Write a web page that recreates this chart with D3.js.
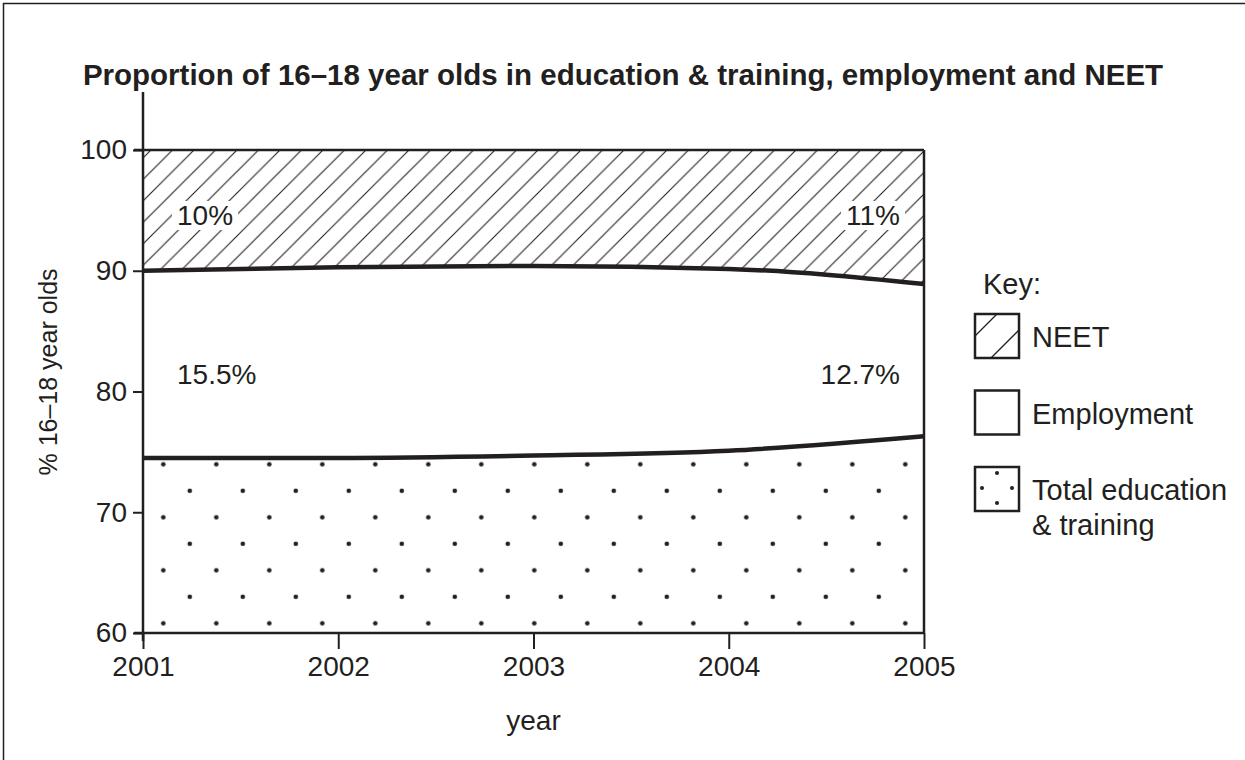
<!DOCTYPE html>
<html>
<head>
<meta charset="utf-8">
<title>Proportion of 16-18 year olds</title>
<script src="https://d3js.org/d3.v7.min.js"></script>
<style>
  body { margin: 0; background: #fff; }
  text { font-family: "Liberation Sans", Arial, sans-serif; fill: #231f20; }
</style>
</head>
<body>
<script>
// data
var years = [2001, 2002, 2003, 2004, 2005];
var upperLine = [90.0, 90.3, 90.4, 90.15, 88.9];  // top of employment band
var lowerLine = [74.5, 74.5, 74.7, 75.1, 76.3];   // top of education & training band
var yTicks = [60, 70, 80, 90, 100];
var bandLabels = [
  { year: 2001, value: 94.6, text: "10%", anchor: "start" },
  { year: 2005, value: 94.6, text: "11%", anchor: "end" },
  { year: 2001, value: 81.4, text: "15.5%", anchor: "start" },
  { year: 2005, value: 81.4, text: "12.7%", anchor: "end" }
];
var keyItems = ["NEET", "Employment", "Total education\n& training"];

var width = 1245, height = 760;
var ink = "#231f20";

var svg = d3.select("body").append("svg")
  .attr("width", width)
  .attr("height", height);

var x = d3.scaleLinear().domain([2001, 2005]).range([143, 924]);
var y = d3.scaleLinear().domain([60, 100]).range([633, 150]);

var upper = years.map((yr, i) => ({ yr: yr, v: upperLine[i] }));
var lower = years.map((yr, i) => ({ yr: yr, v: lowerLine[i] }));

// patterns
var defs = svg.append("defs");
var hs = 21.5;
var hatch = defs.append("pattern")
  .attr("id", "hatch")
  .attr("patternUnits", "userSpaceOnUse")
  .attr("x", x(2001) + 8).attr("y", y(100))
  .attr("width", hs).attr("height", hs);
hatch.append("path")
  .attr("d", `M0,${hs} L${hs},0 M${-hs/2},${hs/2} L${hs/2},${-hs/2} M${hs/2},${hs*1.5} L${hs*1.5},${hs/2}`)
  .attr("stroke", ink).attr("stroke-width", 1.1);

var ds = 53;
var dots = defs.append("pattern")
  .attr("id", "dots")
  .attr("patternUnits", "userSpaceOnUse")
  .attr("x", x(2001) - 6.2).attr("y", y(60) - 9.7 - ds / 2)
  .attr("width", ds).attr("height", ds);
[[0, 0], [ds, 0], [0, ds], [ds, ds], [ds / 2, ds / 2]].forEach(p => {
  dots.append("circle").attr("cx", p[0]).attr("cy", p[1]).attr("r", 2.3).attr("fill", ink);
});

// areas
var topArea = d3.area()
  .x(d => x(d.yr))
  .y0(d => y(d.v))
  .y1(() => y(100))
  .curve(d3.curveMonotoneX);
var bottomArea = d3.area()
  .x(d => x(d.yr))
  .y0(() => y(60))
  .y1(d => y(d.v))
  .curve(d3.curveMonotoneX);

svg.append("path").datum(upper).attr("d", topArea).attr("fill", "url(#hatch)");
svg.append("path").datum(lower).attr("d", bottomArea).attr("fill", "url(#dots)");

// labels in bands, white knock-out behind
bandLabels.forEach(l => {
  var tx = l.anchor === "start" ? x(l.year) + 34 : x(l.year) - 24;
  var t = svg.append("text")
    .attr("x", tx).attr("y", y(l.value))
    .attr("dy", "0.35em")
    .attr("text-anchor", l.anchor)
    .attr("font-size", 28)
    .text(l.text);
  var bb = t.node().getBBox();
  svg.insert("rect", () => t.node())
    .attr("x", bb.x - 5).attr("y", bb.y + 1)
    .attr("width", bb.width + 10).attr("height", bb.height - 2)
    .attr("fill", "#fff");
});

// boundary lines
var line = d3.line().x(d => x(d.yr)).y(d => y(d.v)).curve(d3.curveMonotoneX);
svg.append("path").datum(upper).attr("d", line)
  .attr("fill", "none").attr("stroke", ink).attr("stroke-width", 4.5);
svg.append("path").datum(lower).attr("d", line)
  .attr("fill", "none").attr("stroke", ink).attr("stroke-width", 4.5);

// top and right edges of plot
svg.append("line")
  .attr("x1", x(2001) - 9).attr("x2", x(2005))
  .attr("y1", y(100)).attr("y2", y(100))
  .attr("stroke", ink).attr("stroke-width", 2.5);
svg.append("line")
  .attr("x1", x(2005)).attr("x2", x(2005))
  .attr("y1", y(100)).attr("y2", y(60))
  .attr("stroke", ink).attr("stroke-width", 2.5);

// axes
var yAxis = d3.axisLeft(y).tickValues(yTicks).tickSize(10).tickPadding(6);
var yg = svg.append("g").attr("transform", `translate(${x(2001)},0)`).call(yAxis);
var xAxis = d3.axisBottom(x).tickValues(years).tickFormat(d3.format("d")).tickSize(16).tickPadding(7);
var xg = svg.append("g").attr("transform", `translate(0,${y(60)})`).call(xAxis);

[yg, xg].forEach(g => {
  g.select(".domain").remove();
  g.selectAll(".tick line").attr("stroke", ink).attr("stroke-width", 2);
  g.selectAll(".tick text").attr("font-size", 28).attr("font-family", "Liberation Sans, Arial, sans-serif").attr("fill", ink);
});

// axis lines
svg.append("line")
  .attr("x1", x(2001)).attr("x2", x(2001))
  .attr("y1", 92).attr("y2", y(60) + 8)
  .attr("stroke", ink).attr("stroke-width", 2.5);
svg.append("line")
  .attr("x1", x(2001) - 9).attr("x2", x(2005))
  .attr("y1", y(60)).attr("y2", y(60))
  .attr("stroke", ink).attr("stroke-width", 2.5);

// axis titles
svg.append("text")
  .attr("transform", `translate(48,372) rotate(-90)`)
  .attr("text-anchor", "middle")
  .attr("dy", "0.35em")
  .attr("font-size", 25)
  .text("% 16\u201318 year olds");
svg.append("text")
  .attr("x", (x(2001) + x(2005)) / 2).attr("y", 730)
  .attr("text-anchor", "middle")
  .attr("font-size", 28)
  .text("year");

// title
svg.append("text")
  .attr("x", 623).attr("y", 85)
  .attr("text-anchor", "middle")
  .attr("font-size", 29.5)
  .attr("font-weight", "bold")
  .text("Proportion of 16\u201318 year olds in education & training, employment and NEET");

// frame (top and left)
svg.append("line").attr("x1", 3).attr("x2", width).attr("y1", 3.5).attr("y2", 3.5)
  .attr("stroke", ink).attr("stroke-width", 1.5);
svg.append("line").attr("x1", 3.5).attr("x2", 3.5).attr("y1", 3).attr("y2", height)
  .attr("stroke", ink).attr("stroke-width", 1.5);

// key
var kx = 975, ky0 = 314, kstep = 76.5, kbox = 44;
svg.append("text").attr("x", 983).attr("y", 294).attr("font-size", 29).text("Key:");
keyItems.forEach((label, i) => {
  var g = svg.append("g").attr("transform", `translate(${kx},${ky0 + i * kstep})`);
  g.append("rect").attr("width", kbox).attr("height", kbox)
    .attr("fill", "#fff").attr("stroke", ink).attr("stroke-width", 2.5);
  if (i === 0) {
    g.append("path").attr("d", `M0,22 L22,0 M16,44 L44,16`)
      .attr("stroke", ink).attr("stroke-width", 1.3);
  }
  if (i === 2) {
    [[22, 6], [7, 21], [37, 21], [22, 36]].forEach(p => {
      g.append("circle").attr("cx", p[0]).attr("cy", p[1]).attr("r", 2).attr("fill", ink);
    });
  }
  var t = g.append("text").attr("x", 57).attr("y", 33).attr("font-size", 29);
  label.split("\n").forEach((s, j) => {
    t.append("tspan").attr("x", 57).attr("dy", j === 0 ? 0 : 35).text(s);
  });
});
</script>
</body>
</html>
